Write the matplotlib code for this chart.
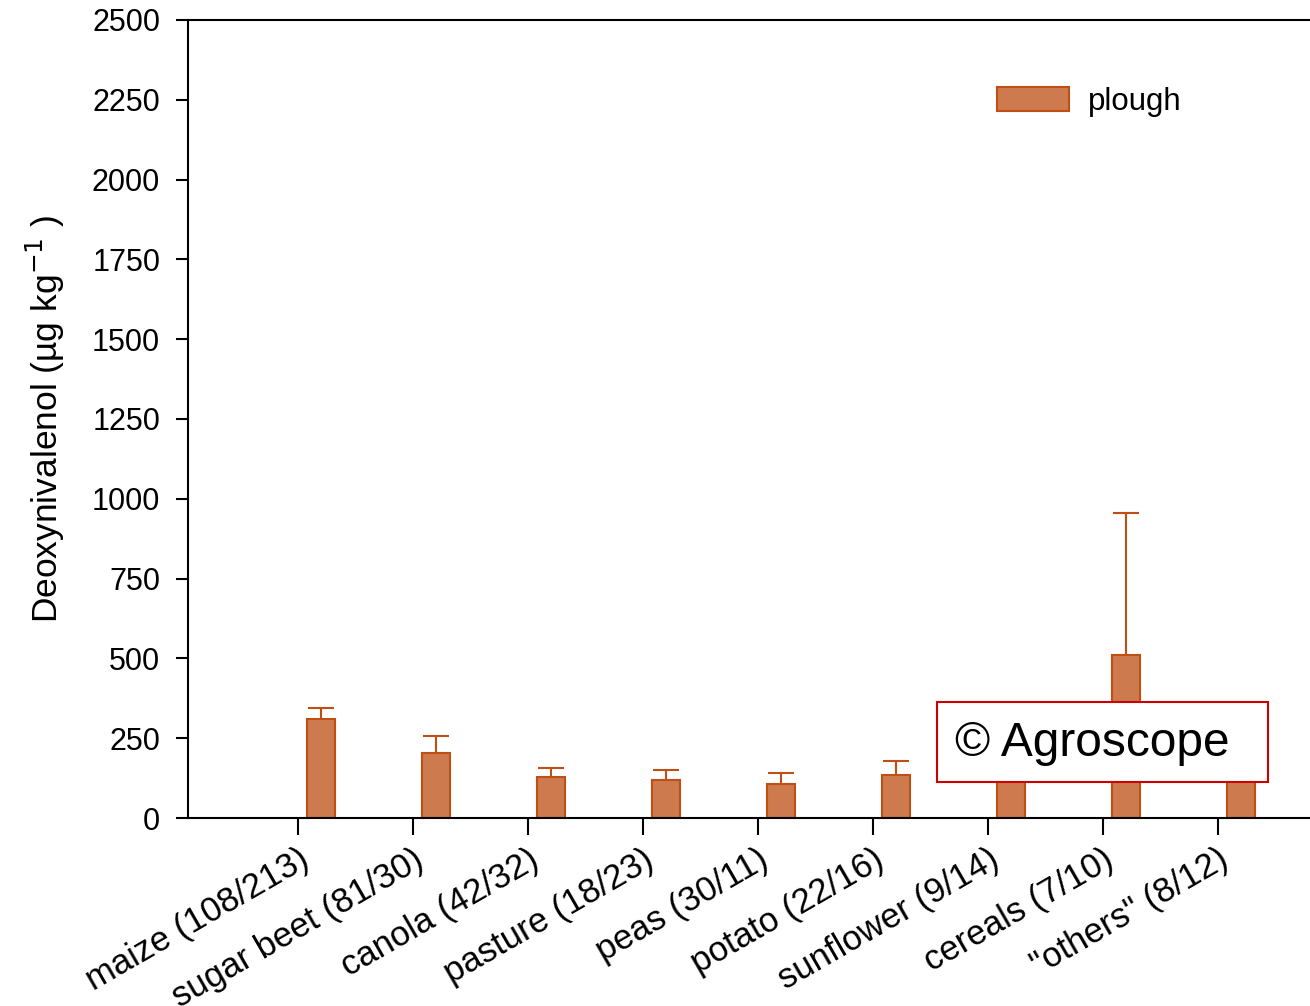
import matplotlib.pyplot as plt
import numpy as np
from matplotlib.patches import Rectangle

plt.rcParams['font.family'] = ['Liberation Sans', 'DejaVu Sans']

# data
crops = ['maize (108/213)', 'sugar beet (81/30)', 'canola (42/32)', 'pasture (18/23)',
         'peas (30/11)', 'potato (22/16)', 'sunflower (9/14)', 'cereals (7/10)',
         '"others" (8/12)']
plough_mean = [310, 204, 128, 119, 107, 135, 200, 511, 180]
plough_err = [35, 53, 29, 31, 34, 44, 40, 444, 45]

fill_color = '#cd7a4e'
edge_color = '#c04f14'

fig = plt.figure(figsize=(13.1, 10.06), dpi=100)
# axes runs past the right edge of the figure, as in the original
ax = fig.add_axes([188 / 1310, 188 / 1006, 1130 / 1310, 798 / 1006])

x = np.arange(len(crops))
offset = 0.2
bar_w = 0.25
cap_w = 0.22
mean = np.array(plough_mean)
top = mean + np.array(plough_err)

ax.bar(x + offset, mean, width=bar_w, color=fill_color, edgecolor=edge_color,
       linewidth=1.5, label='plough', zorder=2)
# upper error bars only, starting at the bar top
ax.vlines(x + offset, mean, top, color=edge_color, linewidth=1.5, zorder=3)
ax.hlines(top, x + offset - cap_w / 2, x + offset + cap_w / 2, color=edge_color,
          linewidth=1.5, zorder=3)

ax.set_xlim(-0.957, 8.87)
ax.set_ylim(0, 2500)
ax.set_yticks(np.arange(0, 2501, 250))
ax.set_xticks(x)
ax.set_xticklabels(crops, rotation=30, ha='right', rotation_mode='anchor', fontsize=25)
ax.tick_params(axis='y', labelsize=22, length=9, width=1.5, direction='out', pad=11)
ax.tick_params(axis='x', length=12, width=1.5, direction='out', pad=6)

for side in ['left', 'bottom', 'top', 'right']:
    ax.spines[side].set_linewidth(1.5)

ax.set_ylabel('Deoxynivalenol (µg kg$^{-1}$ )', fontsize=25.5, labelpad=18)

ax.legend(loc='upper left', bbox_to_anchor=((997 - 188) / 1130, (818 - 87) / 798),
          bbox_transform=ax.transAxes, frameon=False, fontsize=22.5,
          handlelength=2.3, handleheight=0.8, handletextpad=0.6, borderaxespad=0,
          borderpad=0)

# copyright box
fig.patches.append(Rectangle((937 / 1310, (1006 - 782) / 1006), 331 / 1310, 80 / 1006,
                             transform=fig.transFigure, facecolor='white',
                             edgecolor='#cc0000', linewidth=1.5, zorder=10))
fig.text(955 / 1310, (1006 - 744) / 1006, '© Agroscope', fontsize=34.5,
         va='center', ha='left', zorder=11)

fig.savefig('out.png', dpi=100)
